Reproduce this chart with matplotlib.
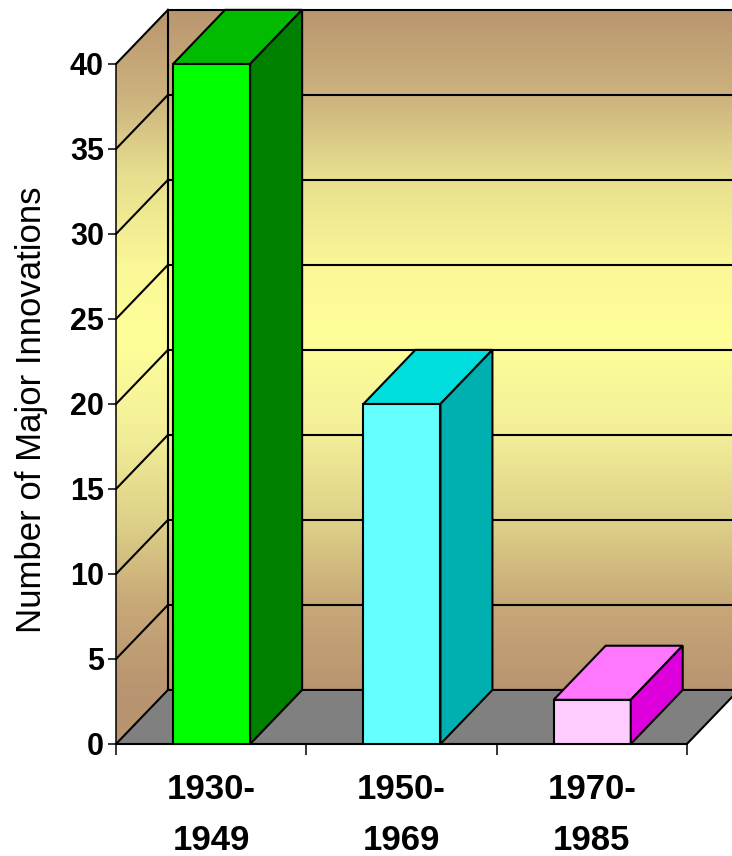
import numpy as np
import matplotlib.pyplot as plt
from matplotlib.patches import Polygon
from matplotlib.colors import LinearSegmentedColormap
from matplotlib import font_manager

# innovations per period
periods = ["1930-\n1949", "1950-\n1969", "1970-\n1985"]
innovations = [40, 20, 2.6]

front_colors = ["#00ff00", "#66ffff", "#ffccff"]
top_colors = ["#00bb00", "#00dddd", "#ff77ff"]
side_colors = ["#008000", "#00b0b0", "#dd00dd"]

ymax = 40
yticks = np.arange(0, ymax + 1, 5)

# fake 3d depth, in data units (x: category slots, y: value)
dx, dy = 0.273, 3.18
bar_left, bar_width = 0.30, 0.405

names = {f.name for f in font_manager.fontManager.ttflist}
if "Liberation Sans Narrow" in names:
    label_font, label_size = "Liberation Sans Narrow", 30
else:
    label_font, label_size = "Liberation Sans", 25
plt.rcParams["font.family"] = ["Liberation Sans", "DejaVu Sans"]

fig = plt.figure(figsize=(7.32, 8.56), dpi=100)
ax = fig.add_axes([0, 0, 1, 1])
ax.set_facecolor("none")
ax.set_xlim(-0.6096, 3.237)
ax.set_ylim(-6.588, 43.76)

n = len(periods)
top = ymax + dy

# walls: vertical gradient tan -> pale yellow -> tan
grad = LinearSegmentedColormap.from_list("wall", [
    (0.00, "#b89470"),
    (0.07, "#b89470"),
    (0.19, "#c8a878"),
    (0.30, "#ddd088"),
    (0.42, "#f2ee98"),
    (0.55, "#ffff99"),
    (0.65, "#fbf897"),
    (0.78, "#e6dd8e"),
    (0.88, "#cdb37e"),
    (1.00, "#b9966f"),
])
walls = Polygon([(0, 0), (0, ymax), (dx, top), (n + dx, top), (n + dx, dy), (dx, dy)],
                closed=True, facecolor="none", edgecolor="none")
ax.add_patch(walls)
img = ax.imshow(np.linspace(0, 1, 256).reshape(-1, 1), cmap=grad, origin="lower",
                extent=[0, n + dx, 0, top], aspect="auto", zorder=0)
img.set_clip_path(walls)

# gridlines on back and side walls
lw = 1.5
for v in yticks[1:]:
    ax.plot([dx, n + dx], [v + dy, v + dy], color="k", lw=lw, zorder=1)
    ax.plot([0, dx], [v, v + dy], color="k", lw=lw, zorder=1)
ax.plot([dx, dx], [dy, top], color="k", lw=lw, zorder=1)

# floor
ax.add_patch(Polygon([(0, 0), (n, 0), (n + dx, dy), (dx, dy)], closed=True,
                     facecolor="#808080", edgecolor="k", lw=lw, zorder=2))

# bars
for i, h in enumerate(innovations):
    x0 = i + bar_left
    x1 = x0 + bar_width
    ax.add_patch(Polygon([(x0, 0), (x1, 0), (x1, h), (x0, h)], closed=True,
                         facecolor=front_colors[i], edgecolor="k", lw=lw, zorder=3))
    ax.add_patch(Polygon([(x0, h), (x1, h), (x1 + dx, h + dy), (x0 + dx, h + dy)], closed=True,
                         facecolor=top_colors[i], edgecolor="k", lw=lw, zorder=3))
    ax.add_patch(Polygon([(x1, 0), (x1 + dx, dy), (x1 + dx, h + dy), (x1, h)], closed=True,
                         facecolor=side_colors[i], edgecolor="k", lw=lw, zorder=3))

# axes
for s in ["top", "right"]:
    ax.spines[s].set_visible(False)
ax.spines["left"].set_position(("data", 0))
ax.spines["bottom"].set_position(("data", 0))
ax.spines["left"].set_bounds(0, ymax)
ax.spines["bottom"].set_bounds(0, n)
for s in ["left", "bottom"]:
    ax.spines[s].set_linewidth(1.1)
    ax.spines[s].set_zorder(4)

ax.set_yticks(yticks)
ax.set_yticklabels([str(v) for v in yticks], fontsize=22, fontweight="bold")
ax.tick_params(axis="y", length=5.8, width=1.1, pad=3)

ax.set_xticks(np.arange(n + 1))
ax.set_xticklabels([])
ax.set_xticks(np.arange(n) + 0.5, minor=True)
ax.set_xticklabels(periods, minor=True, fontsize=25, fontweight="bold", linespacing=1.7)
ax.tick_params(axis="x", which="major", length=8, width=1.1)
ax.tick_params(axis="x", which="minor", length=0, pad=21)

ax.set_ylabel("Number of Major Innovations", fontsize=label_size,
              family=[label_font, "DejaVu Sans"])
ax.yaxis.set_label_coords(0.066, 0.521)

fig.savefig("out.png", dpi=100)
